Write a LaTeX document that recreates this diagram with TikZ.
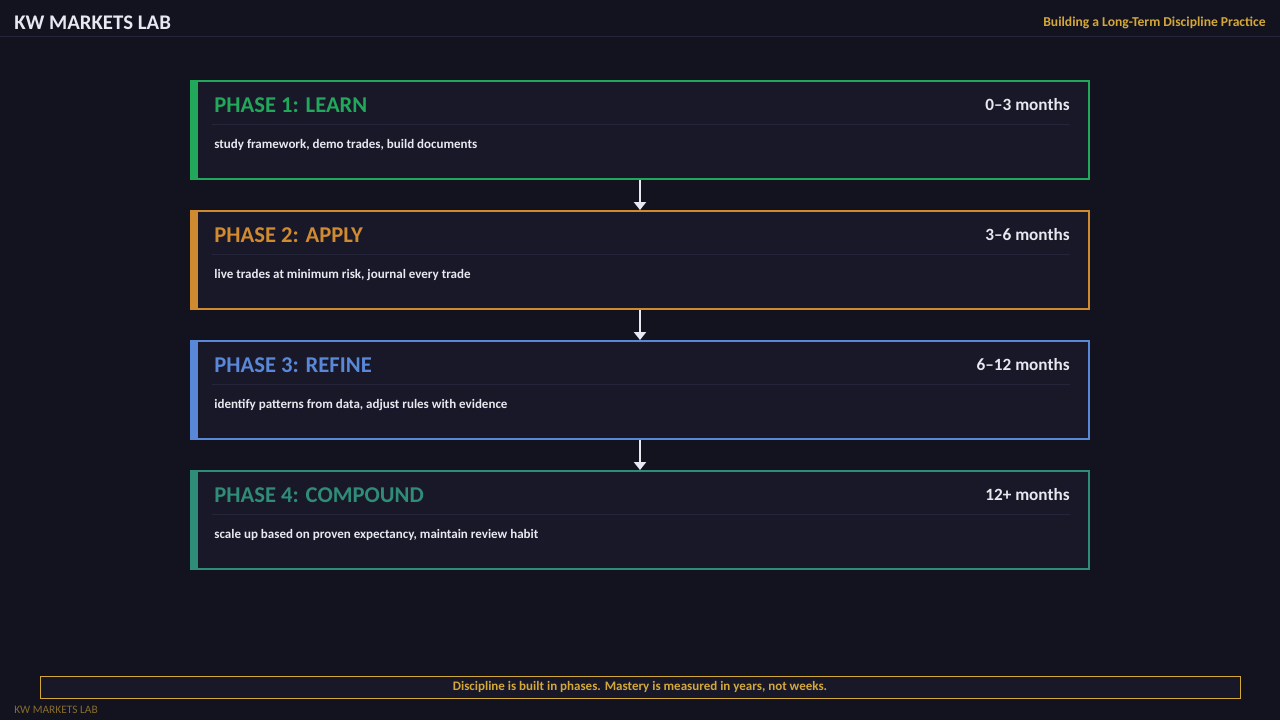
\documentclass[tikz,border=0pt]{standalone}
\usepackage{fontspec}
\setmainfont{Carlito}
\usetikzlibrary{arrows.meta}
\definecolor{bg}{HTML}{13131F}
\definecolor{boxbg}{HTML}{181828}
\definecolor{sep}{HTML}{25253A}
\definecolor{cgreen}{HTML}{22A85A}
\definecolor{corange}{HTML}{D08A30}
\definecolor{cblue}{HTML}{5A88D8}
\definecolor{cteal}{HTML}{2E8C78}
\definecolor{gold}{HTML}{D4A838}
\definecolor{txt}{HTML}{E8E8F0}
\begin{document}
\begin{tikzpicture}[x=0.5pt,y=-0.5pt,every node/.style={inner sep=0pt},
  ttl/.style={anchor=west,font=\fontsize{11.3}{13}\selectfont\bfseries},
  mon/.style={anchor=east,text=txt,font=\fontsize{8.6}{10}\selectfont\bfseries},
  bod/.style={anchor=west,text=txt,font=\fontsize{6.5}{8}\selectfont\bfseries},
  arr/.style={draw=txt,line width=1pt,-{Triangle[width=6pt,length=4pt]}}]
\fill[bg] (0,0) rectangle (1280,720);
\useasboundingbox (0,0) rectangle (1280,720);
\draw[sep,line width=0.5pt] (0,36.5) -- (1280,36.5);
\node[anchor=west,text=txt,font=\fontsize{10.4}{12}\selectfont\bfseries] (brand) at (14,23) {KW MARKETS LAB};
\node[anchor=east,text=gold,font=\fontsize{6.8}{8}\selectfont\bfseries] (sub) at (1266,23) {Building a Long-Term Discipline Practice};
\foreach \i/\c/\t/\m/\b in {0/cgreen/PHASE 1: LEARN/0–3 months/{study framework, demo trades, build documents},
  1/corange/PHASE 2: APPLY/3–6 months/{live trades at minimum risk, journal every trade},
  2/cblue/PHASE 3: REFINE/6–12 months/{identify patterns from data, adjust rules with evidence},
  3/cteal/PHASE 4: COMPOUND/12+ months/{scale up based on proven expectancy, maintain review habit}}{
  \pgfmathsetmacro\y{80+130*\i}
  \fill[boxbg] (191,\y+1) rectangle (1089,\y+99);
  \draw[\c,line width=1pt] (191,\y+1) rectangle (1089,\y+99);
  \fill[\c] (190,\y) rectangle (198,\y+100);
  \coordinate (top\i) at (640,\y);
  \coordinate (bot\i) at (640,\y+100);
  \draw[sep,line width=0.5pt] (212,\y+44.5) -- (1070,\y+44.5);
  \node[ttl,text=\c] (t\i) at (214,\y+25) {\t};
  \node[mon] (m\i) at (1070,\y+25) {\m};
  \node[bod] (b\i) at (214,\y+65) {\b};
}
\draw[arr] (bot0) -- (top1);
\draw[arr] (bot1) -- (top2);
\draw[arr] (bot2) -- (top3);
\draw[gold,fill=boxbg,line width=0.6pt] (40.5,676.5) rectangle (1240.5,698.5);
\node[text=gold,font=\fontsize{6.5}{8}\selectfont\bfseries] (q) at (640,687) {Discipline is built in phases. Mastery is measured in years, not weeks.};
\node[anchor=west,text=gold!60!bg,font=\fontsize{5.7}{7}\selectfont] (foot) at (14,710) {KW MARKETS LAB};
\end{tikzpicture}
\end{document}
